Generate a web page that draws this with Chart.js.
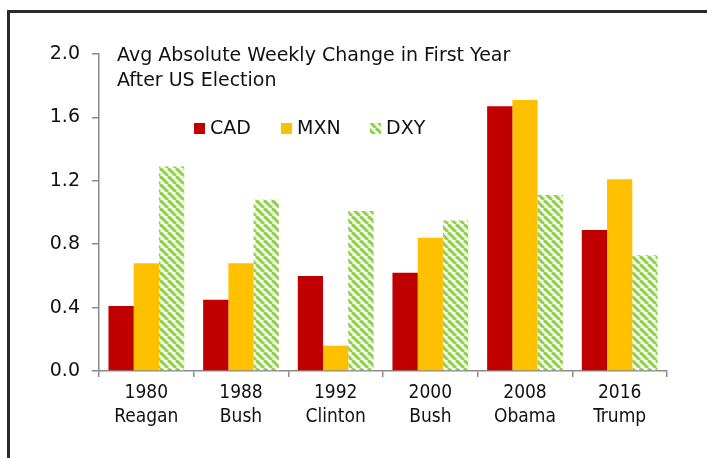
<!DOCTYPE html>
<html><head><meta charset="utf-8">
<script src="https://cdn.jsdelivr.net/npm/chart.js@4.4.1/dist/chart.umd.min.js"></script>
<style>html,body{margin:0;padding:0;background:#fff}#wrap{position:relative;width:707px;height:458px}</style>
</head><body><div id="wrap"><canvas id="c" width="707" height="458"></canvas></div>
<script>
const categories = [["1980","Reagan"],["1988","Bush"],["1992","Clinton"],["2000","Bush"],["2008","Obama"],["2016","Trump"]];
const seriesNames = ["CAD","MXN","DXY"];
const cadValues = [0.41,0.45,0.60,0.62,1.67,0.89];
const mxnValues = [0.68,0.68,0.16,0.84,1.71,1.21];
const dxyValues = [1.29,1.08,1.01,0.95,1.11,0.73];
const yTicks = [0.0,0.4,0.8,1.2,1.6,2.0];
const titleLines = ["Avg Absolute Weekly Change in First Year","After US Election"];

const FONT_C = "'DejaVu Sans Condensed','DejaVu Sans',sans-serif";
const FONT = "'DejaVu Sans',sans-serif";
const FS = 19;
const AXIS = '#8a8a8a';

function stripePattern(){
  const s = 8;
  const c = document.createElement('canvas'); c.width = s; c.height = s;
  const g = c.getContext('2d');
  g.fillStyle = '#fff'; g.fillRect(0,0,s,s);
  g.strokeStyle = '#92d050'; g.lineWidth = 3.2;
  for (let k=-1;k<=1;k++){ g.beginPath(); g.moveTo(k*s,0); g.lineTo(k*s+s,s); g.stroke(); }
  return document.getElementById('c').getContext('2d').createPattern(c,'repeat');
}
const pat = stripePattern();
const colors = ['#c00000','#ffc000',pat];

const overlay = {
  id:'overlay',
  beforeDraw(chart){
    const ctx = chart.ctx;
    ctx.save();
    ctx.fillStyle = '#fff'; ctx.fillRect(0,0,chart.width,chart.height);
    ctx.fillStyle = '#2a2a2a';
    ctx.fillRect(7,10,chart.width-7,3);
    ctx.fillRect(7,10,3,chart.height-10);
    ctx.restore();
  },
  afterDraw(chart){
    const ctx = chart.ctx;
    ctx.save();
    ctx.fillStyle = '#111';
    ctx.font = FS + 'px ' + FONT;
    ctx.textBaseline = 'middle'; ctx.textAlign = 'left';
    titleLines.forEach((t,i)=>ctx.fillText(t,117,56+i*25));
    const legX = [194,281,370];
    chart.data.datasets.forEach((ds,i)=>{
      ctx.fillStyle = ds.backgroundColor;
      ctx.fillRect(legX[i],123,11,11);
      ctx.fillStyle = '#111';
      ctx.fillText(ds.label, legX[i]+16, 129);
    });
    ctx.restore();
  }
};

new Chart(document.getElementById('c'), {
  type:'bar',
  data:{
    labels: categories,
    datasets: seriesNames.map((n,i)=>({
      label:n,
      data:[cadValues,mxnValues,dxyValues][i],
      backgroundColor: colors[i],
      borderWidth:0,
      categoryPercentage:0.8,
      barPercentage:1.0
    }))
  },
  options:{
    responsive:false, animation:false, devicePixelRatio:1,
    layout:{padding:{left:0,top:54,right:40,bottom:0}},
    plugins:{legend:{display:false},title:{display:false},tooltip:{enabled:false}},
    scales:{
      x:{
        grid:{display:true,drawOnChartArea:false,drawTicks:true,tickLength:6,color:AXIS,lineWidth:1.5,offset:true},
        border:{display:true,color:AXIS,width:1.5},
        ticks:{color:'#111',font:{family:FONT_C,size:FS,lineHeight:1.25},padding:4,maxRotation:0,autoSkip:false},
        afterFit(s){ s.height = 458-371; }
      },
      y:{
        min:0,max:2.0,
        afterBuildTicks(s){ s.ticks = yTicks.map(v=>({value:v})); },
        grid:{display:true,drawOnChartArea:false,drawTicks:true,tickLength:7,color:AXIS,lineWidth:1.5},
        border:{display:true,color:AXIS,width:1.5},
        ticks:{color:'#111',font:{family:FONT,size:FS},padding:12,callback:v=>Number(v).toFixed(1)},
        afterFit(s){ s.width = 99; }
      }
    }
  },
  plugins:[overlay]
});
</script></body></html>
